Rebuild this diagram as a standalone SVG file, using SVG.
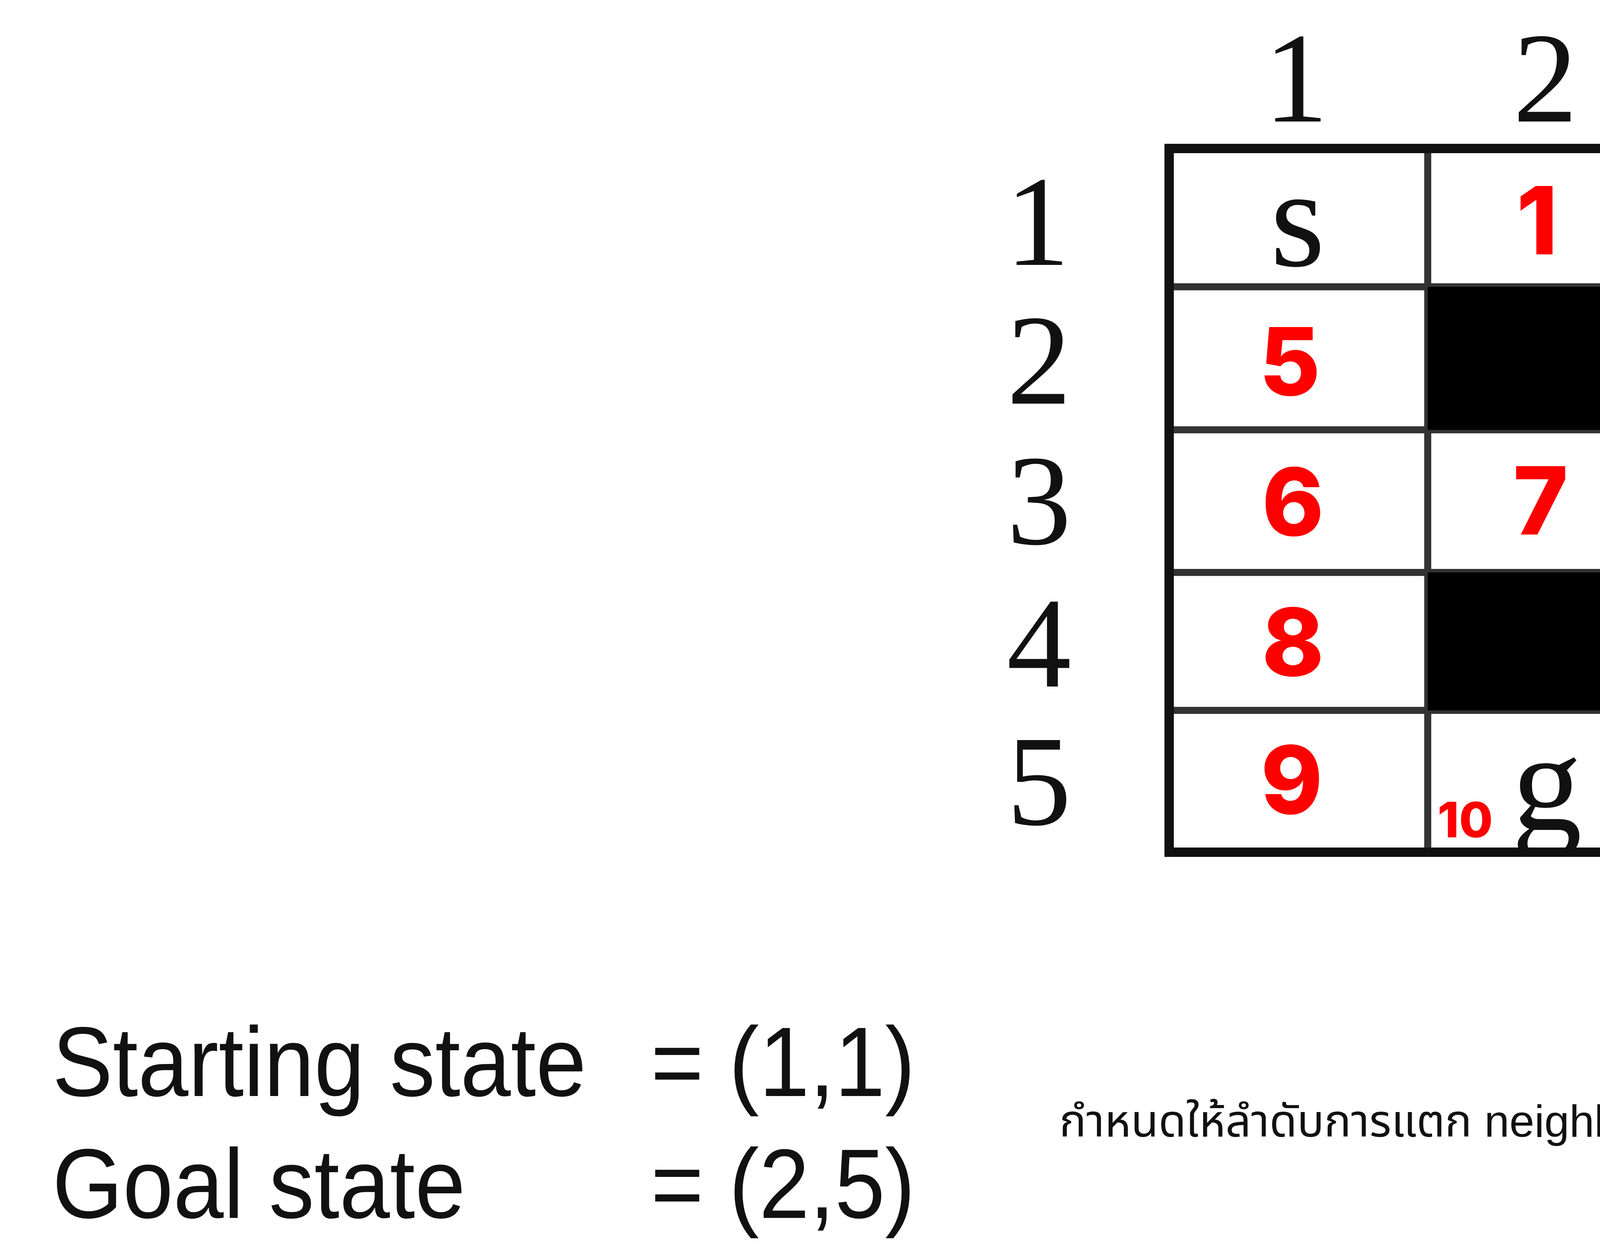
<svg xmlns="http://www.w3.org/2000/svg" width="6164" height="3217" viewBox="0 0 6164 3217">
<style>
.inner{stroke:#333;stroke-width:18;fill:none}
.outer{stroke:#111;stroke-width:24;fill:none}
.block{fill:#000}
.axis{font-family:"Liberation Serif","DejaVu Serif",serif;font-size:330px;fill:#111;text-anchor:middle}
.mark{font-family:"Liberation Serif","DejaVu Serif",serif;font-size:360px;fill:#111;text-anchor:middle}
.num{font-family:Inter,"Open Sans","Noto Sans",sans-serif;font-weight:800;font-size:240px;fill:#ff0000;text-anchor:middle}
.small{font-family:Inter,"Open Sans","Noto Sans",sans-serif;font-weight:800;font-size:125px;fill:#ff0000}
.state{font-family:"Liberation Sans",Arial,sans-serif;font-size:232px;fill:#111}
.note{font-family:"Liberation Sans",Arial,"Noto Sans Thai","Noto Sans",sans-serif;font-size:115px;fill:#111}
</style>
<defs>
<clipPath id="cell52"><rect x="3655" y="1818" width="586" height="352"/></clipPath>
</defs>
<rect x="0" y="0" width="6164" height="3217" fill="#fff"/>
<g id="grid">
<g id="grid-lines">
<line class="inner" x1="3655" y1="380" x2="3655" y2="2181"/>
<line class="inner" x1="4241" y1="380" x2="4241" y2="2181"/>
<line class="inner" x1="4829" y1="380" x2="4829" y2="2181"/>
<line class="inner" x1="5414" y1="380" x2="5414" y2="2181"/>
<line class="inner" x1="2993" y1="734" x2="6018" y2="734"/>
<line class="inner" x1="2993" y1="1100" x2="6018" y2="1100"/>
<line class="inner" x1="2993" y1="1465" x2="6018" y2="1465"/>
<line class="inner" x1="2993" y1="1818" x2="6018" y2="1818"/>
</g>
<g id="walls">
<rect class="block" x="3655" y="734" width="2363" height="366"/>
<rect class="block" x="4241" y="1100" width="588" height="365"/>
<rect class="block" x="3655" y="1465" width="1174" height="353"/>
</g>
</g>

<g id="cell-texts">
<text id="start" class="mark" x="3322" y="680">s</text>
<text id="goal" class="mark" x="3960" y="2123" clip-path="url(#cell52)">g</text>
<text class="num" x="3935" y="651">1</text>
<text class="num" x="4566" y="651">2</text>
<text class="num" x="5152" y="651">3</text>
<text class="num" x="5747" y="651">4</text>
<text class="num" x="3302" y="1012">5</text>
<text class="num" x="3310" y="1371">6</text>
<text class="num" x="3944" y="1368">7</text>
<text class="num" x="3310" y="1730">8</text>
<text class="num" x="3307" y="2082">9</text>
<text class="small" x="3680" y="2143">10</text>
</g>

<rect id="grid-border" class="outer" x="2993" y="380" width="3025" height="1801"/>

<g id="column-headers">
<text class="axis" x="3318" y="311">1</text>
<text class="axis" x="3956" y="311">2</text>
<text class="axis" x="4542" y="311">3</text>
<text class="axis" x="5130" y="311">4</text>
<text class="axis" x="5716" y="311">5</text>
</g>
<g id="row-headers">
<text class="axis" x="2656" y="678">1</text>
<text class="axis" x="2660" y="1033">2</text>
<text class="axis" x="2660" y="1392">3</text>
<text class="axis" x="2660" y="1757">4</text>
<text class="axis" x="2660" y="2110">5</text>
</g>

<g id="states">
<text class="state" transform="translate(134,2805) scale(1,1.09)">Starting state</text>
<text class="state" transform="translate(1666,2805) scale(1,1.09)">= (1,1)</text>
<text class="state" transform="translate(134,3117) scale(1,1.09)">Goal state</text>
<text class="state" transform="translate(1666,3117) scale(1,1.09)">= (2,5)</text>
</g>

<g id="neighbor-order">
<text class="note" x="2712" y="2909">กำหนดให้ลำดับการแตก neighbor เป็นดังนี้: east, south, west, north,</text>
</g>
</svg>
